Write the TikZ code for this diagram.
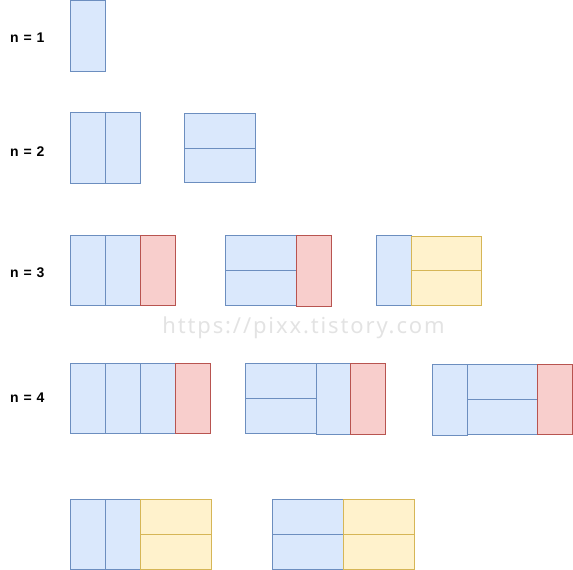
\documentclass[tikz,border=0pt]{standalone}
\usepackage{fontspec}
\setmainfont{Liberation Sans}
\newfontfamily\wmfont[LetterSpace=8.5]{Noto Sans}
\definecolor{blfill}{HTML}{DAE8FC}
\definecolor{bldraw}{HTML}{6C8EBF}
\definecolor{rdfill}{HTML}{F8CECC}
\definecolor{rddraw}{HTML}{B85450}
\definecolor{ylfill}{HTML}{FFF2CC}
\definecolor{yldraw}{HTML}{D6B656}
\definecolor{wmcol}{HTML}{E3E3E3}
\begin{document}
\begin{tikzpicture}[x=1pt,y=-1pt,
  bl/.style={fill=blfill,draw=bldraw,line width=1pt},
  rd/.style={fill=rdfill,draw=rddraw,line width=1pt},
  yl/.style={fill=ylfill,draw=yldraw,line width=1pt},
  lab/.style={anchor=base west,inner sep=0pt,font=\fontsize{14}{16}\selectfont\bfseries},
  wm/.style={anchor=base,inner sep=0pt,text=wmcol,font=\wmfont\fontsize{22}{26}\selectfont}]
\useasboundingbox (0,0) rectangle (573,570);
% watermark
\node[wm] (wmark) at (303.5,333.5) {https://pixx.tistory.com};
% labels
\node[lab] (l1) at (10,42.3) {n\hspace{0.35em}=\hspace{0.35em}1};
\node[lab] (l2) at (10,156) {n\hspace{0.35em}=\hspace{0.35em}2};
\node[lab] (l3) at (10,277.7) {n\hspace{0.35em}=\hspace{0.35em}3};
\node[lab] (l4) at (10,402.7) {n\hspace{0.35em}=\hspace{0.35em}4};
% n = 1
\path[bl] (70.5,0.5) rectangle (105,71);
% n = 2
\path[bl] (70,112) rectangle (105,183);
\path[bl] (105,112) rectangle (140,183);
\path[bl] (184,113) rectangle (255,148);
\path[bl] (184,148) rectangle (255,182);
% n = 3
\path[bl] (70,235) rectangle (105,305);
\path[bl] (105,235) rectangle (140,305);
\path[rd] (140,235) rectangle (175.5,305);
\path[bl] (225.5,235) rectangle (296,270);
\path[bl] (225.5,270) rectangle (296,305);
\path[rd] (296,235) rectangle (331,306);
\path[bl] (376,235) rectangle (411,305.5);
\path[yl] (411,236) rectangle (481.5,270.5);
\path[yl] (411,270.5) rectangle (481.5,305);
% n = 4
\path[bl] (70,363) rectangle (105,433.5);
\path[bl] (105,363) rectangle (140,433.5);
\path[bl] (140,363) rectangle (175,433.5);
\path[rd] (175,363) rectangle (210.5,433.5);
\path[bl] (245.5,363) rectangle (316,398.5);
\path[bl] (245.5,398.5) rectangle (316,433.5);
\path[bl] (316,363) rectangle (350.5,434);
\path[rd] (350.5,363) rectangle (385.5,434);
\path[bl] (432.5,364.5) rectangle (467,435);
\path[bl] (467,364.5) rectangle (537.5,399.5);
\path[bl] (467,399.5) rectangle (537.5,434.5);
\path[rd] (537.5,364.5) rectangle (572.3,434.5);
% row 5
\path[bl] (70,499) rectangle (105,569.3);
\path[bl] (105,499) rectangle (140,569.3);
\path[yl] (140,499) rectangle (211,534);
\path[yl] (140,534) rectangle (211,569.3);
\path[bl] (272.5,499) rectangle (343.5,534);
\path[bl] (272.5,534) rectangle (343.5,569.3);
\path[yl] (343.5,499) rectangle (414.5,534);
\path[yl] (343.5,534) rectangle (414.5,569.3);
\end{tikzpicture}
\end{document}
